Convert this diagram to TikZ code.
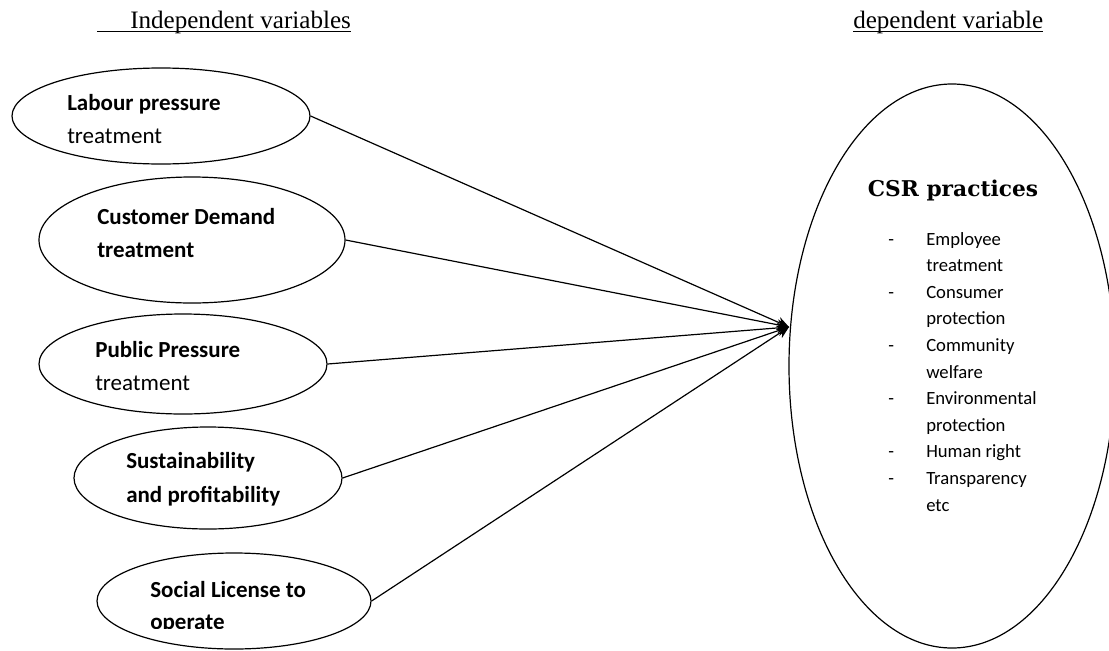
\documentclass[tikz,border=0pt]{standalone}
\usepackage{fontspec}
\setmainfont{Carlito}
\newfontfamily\headfont{Liberation Serif}
\newfontfamily\csrfont{DejaVu Serif}
\usetikzlibrary{shapes.geometric,arrows.meta}
\newcommand\ulhead[2]{\setbox0\hbox{#2}\rlap{\rule[-3pt]{\dimexpr\wd0+#1\relax}{0.8pt}}\hspace*{#1}\box0}
\tikzset{
  oval/.style={draw, ellipse, line width=0.9pt, inner sep=0pt},
  lbl/.style={anchor=base west, inner sep=0pt, font=\fontsize{17.25}{20}\selectfont},
  blbl/.style={lbl, font=\fontsize{17.25}{20}\selectfont\bfseries},
  item/.style={anchor=base west, inner sep=0pt, font=\fontsize{14}{16}\selectfont},
  head/.style={anchor=base west, inner sep=0pt, font=\headfont\fontsize{18.8}{22}\selectfont},
  link/.style={line width=0.9pt, -{Stealth[length=9pt,width=8pt]}},
}
\begin{document}
\begin{tikzpicture}[x=0.75pt,y=-0.75pt]
\useasboundingbox (0,0) rectangle (1109,650);
% headings
\node[head] (h1) at (97,28) {\ulhead{24.75pt}{Independent variables}};
\node[head] (h2) at (853,28) {\ulhead{0pt}{dependent variable}};
% left ellipses
\node[oval, minimum width=223.5pt, minimum height=72pt] (e1) at (161,116) {};
\node[oval, minimum width=229.5pt, minimum height=94.5pt] (e2) at (192,240) {};
\node[oval, minimum width=216pt, minimum height=75pt] (e3) at (183,364) {};
\node[oval, minimum width=201pt, minimum height=76.5pt] (e4) at (208,478) {};
\node[oval, minimum width=205.5pt, minimum height=72pt] (e5) at (234,601) {};
% right ellipse
\node[oval, minimum width=244.5pt, minimum height=423pt] (csr) at (952,366) {};
% labels
\node[blbl] (t1a) at (67,110) {Labour pressure};
\node[lbl]  (t1b) at (67,143) {treatment};
\node[blbl] (t2a) at (97,224) {Customer Demand};
\node[blbl] (t2b) at (97,257) {treatment};
\node[blbl] (t3a) at (95,357) {Public Pressure};
\node[lbl]  (t3b) at (95,390) {treatment};
\node[blbl] (t4a) at (126,468) {Sustainability};
\node[blbl] (t4b) at (126,502) {and profitability};
\node[blbl] (t5a) at (150,597) {Social License to};
\begin{scope}
  \clip (0,0) rectangle (1109,628);
  \node[blbl] (t5b) at (150,629) {operate};
\end{scope}
% CSR contents
\node[anchor=base, inner sep=0pt, font=\csrfont\bfseries\fontsize{16.3}{19}\selectfont] (title) at (953,196) {CSR practices};
\foreach \n/\y in {d1/245, d2/298.2, d3/351.4, d4/404.6, d5/457.8, d6/484.4}
  \node[item] (\n) at (888,\y) {-};
\node[item] (i1)  at (926,245)   {Employee};
\node[item] (i2)  at (926,271.6) {treatment};
\node[item] (i3)  at (926,298.2) {Consumer};
\node[item] (i4)  at (926,324.8) {protection};
\node[item] (i5)  at (926,351.4) {Community};
\node[item] (i6)  at (926,378)   {welfare};
\node[item] (i7)  at (926,404.6) {Environmental};
\node[item] (i8)  at (926,431.2) {protection};
\node[item] (i9)  at (926,457.8) {Human right};
\node[item] (i10) at (926,484.4) {Transparency};
\node[item] (i11) at (926,511)   {etc};
% connectors
\coordinate (tip) at (789,327);
\draw[link] (e1.east) -- (tip);
\draw[link] (e2.east) -- (tip);
\draw[link] (e3.east) -- (tip);
\draw[link] (e4.east) -- (tip);
\draw[link] (e5.east) -- (tip);
\end{tikzpicture}
\end{document}
